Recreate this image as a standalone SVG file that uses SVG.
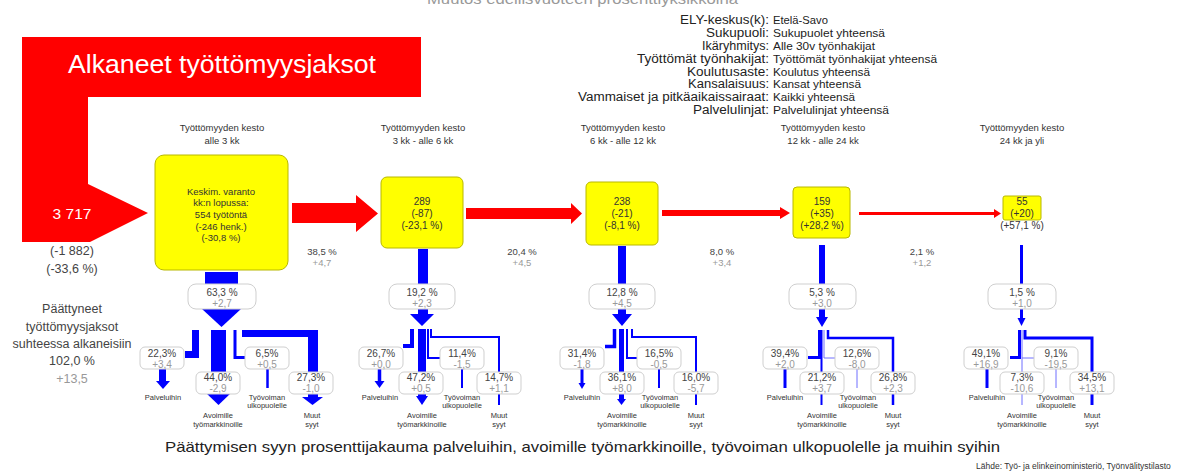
<svg xmlns="http://www.w3.org/2000/svg" width="1200" height="473" viewBox="0 0 1200 473">
<style>
text{font-family:"Liberation Sans",Arial,sans-serif}
.hdr{font-size:9.5px;fill:#333;text-anchor:middle}
.ybox{fill:#ffff00;stroke:#b8b800;stroke-width:1}
.yt{font-size:9.5px;fill:#333;text-anchor:middle}
.yt2{font-size:10px;fill:#333;text-anchor:middle}
.pbox{fill:#fff;stroke:#cfcfcf;stroke-width:1}
.pt{font-size:10px;fill:#444;text-anchor:middle}
.ct{font-size:10px;fill:#999;text-anchor:middle}
.bt{font-size:7.5px;fill:#333;text-anchor:middle}
.red{fill:#ff0000}
.blue{fill:#0000ff}
.bl{stroke:#0000ff;fill:none}
.lb{stroke:#6f6fff;fill:none;stroke-width:1}
.lgl{font-size:12.5px;fill:#222}
.lgv{font-size:10.5px;fill:#222}
.lt{font-size:12.5px;fill:#444;text-anchor:middle}
</style>

<text x="427" y="4" font-size="15" fill="#999" textLength="311" lengthAdjust="spacingAndGlyphs">Muutos edellisvuoteen prosenttiyksikköinä</text>

<g id="legend">
<text class="lgl" x="680" y="23.5" textLength="89" lengthAdjust="spacingAndGlyphs">ELY-keskus(k):</text><text class="lgv" x="773" y="23.5" textLength="55" lengthAdjust="spacingAndGlyphs">Etelä-Savo</text>
<text class="lgl" x="706" y="36.5" textLength="63" lengthAdjust="spacingAndGlyphs">Sukupuoli:</text><text class="lgv" x="773" y="36.5" textLength="112" lengthAdjust="spacingAndGlyphs">Sukupuolet yhteensä</text>
<text class="lgl" x="702" y="49.5" textLength="67" lengthAdjust="spacingAndGlyphs">Ikäryhmitys:</text><text class="lgv" x="773" y="49.5" textLength="102" lengthAdjust="spacingAndGlyphs">Alle 30v työnhakijat</text>
<text class="lgl" x="637" y="63" textLength="132" lengthAdjust="spacingAndGlyphs">Työttömät työnhakijat:</text><text class="lgv" x="773" y="63" textLength="164" lengthAdjust="spacingAndGlyphs">Työttömät työnhakijat yhteensä</text>
<text class="lgl" x="687" y="75.5" textLength="82" lengthAdjust="spacingAndGlyphs">Koulutusaste:</text><text class="lgv" x="773" y="75.5" textLength="97" lengthAdjust="spacingAndGlyphs">Koulutus yhteensä</text>
<text class="lgl" x="688" y="88" textLength="81" lengthAdjust="spacingAndGlyphs">Kansalaisuus:</text><text class="lgv" x="773" y="88" textLength="88" lengthAdjust="spacingAndGlyphs">Kansat yhteensä</text>
<text class="lgl" x="578" y="101" textLength="191" lengthAdjust="spacingAndGlyphs">Vammaiset ja pitkäaikaissairaat:</text><text class="lgv" x="773" y="101" textLength="82" lengthAdjust="spacingAndGlyphs">Kaikki yhteensä</text>
<text class="lgl" x="693" y="113.5" textLength="76" lengthAdjust="spacingAndGlyphs">Palvelulinjat:</text><text class="lgv" x="773" y="113.5" textLength="116" lengthAdjust="spacingAndGlyphs">Palvelulinjat yhteensä</text>
</g>

<g id="connectors">
<path class="red" d="M22,37 H421 V97 H88 V184 L148,213 L90,242 H22 Z"/>
<path class="red" d="M292,203 H356 V195 L378,213.5 L356,232 V223 H292 Z"/>
<path class="red" d="M466,208 H571 V203 L582,213.5 L571,224 V219 H466 Z"/>
<path class="red" d="M662,210 H780 V207 L790,213 L780,219 V216 H662 Z"/>
<path class="red" d="M859,212 H994 V209 L1001,213.5 L994,218 V215 H859 Z"/>

<!-- stage 1 -->
<rect class="blue" x="205" y="272" width="33" height="13"/>
<path class="blue" d="M202,309 H241 L221.5,327 Z"/>
<path class="blue" d="M192,330 H199 V358 H185 V351 H192 Z"/>
<path class="blue" d="M159,369 H166 V381 H170 L163,389 L156,381 H159 Z"/>
<rect class="blue" x="211" y="330" width="15" height="43"/>
<path class="blue" d="M205,392 H232 L218.5,405 Z"/>
<path class="bl" stroke-width="3" d="M235,330 V357.5 H245"/>
<path class="bl" stroke-width="2.5" d="M267.5,369 V388"/>
<path class="blue" d="M242,330 H318 V372 H308 V337 H242 Z"/>
<rect class="blue" x="308" y="392" width="10" height="5"/>
<path class="blue" d="M302,397 H323 L312.5,405 Z"/>

<!-- stage 2 -->
<rect class="blue" x="418" y="249" width="10" height="35"/>
<path class="blue" d="M418,309 H428 V314 H434 L422,326 L410,314 H418 Z"/>
<path class="bl" stroke-width="4" d="M412,329 V346 H403"/>
<path class="bl" stroke-width="3.5" d="M379.5,369 V382"/>
<path class="blue" d="M374.5,381 H384.5 L379.5,388 Z"/>
<rect class="blue" x="418" y="329" width="8" height="43"/>
<rect class="blue" x="418" y="393" width="8" height="4"/>
<path class="blue" d="M416,396 H428 L422,405 Z"/>
<path class="bl" stroke-width="2" d="M428,329 V358 H440"/>
<path class="bl" stroke-width="2" d="M462,369 V388"/>
<path class="bl" stroke-width="2" d="M431,329 V337 H499 V372"/>
<path class="bl" stroke-width="2" d="M499,393 V405"/>

<!-- stage 3 -->
<rect class="blue" x="618" y="246" width="8" height="38"/>
<path class="blue" d="M618,309 H626 V314 H632 L622,326 L612,314 H618 Z"/>
<path class="bl" stroke-width="3.5" d="M614.5,329 V346.5 H605"/>
<path class="bl" stroke-width="3" d="M582,369 V384"/>
<path class="blue" d="M578.5,383 H585.5 L582,389 Z"/>
<rect class="blue" x="619" y="329" width="5" height="43"/>
<rect class="blue" x="619" y="393" width="5" height="6"/>
<path class="blue" d="M617,399 H626 L621.5,405 Z"/>
<path class="bl" stroke-width="2" d="M627,329 V358 H637"/>
<path class="bl" stroke-width="2" d="M659,369 V388"/>
<path class="bl" stroke-width="2" d="M632,329 V337 H696 V372"/>
<path class="bl" stroke-width="2" d="M696,393 V405"/>

<!-- stage 4 -->
<rect class="blue" x="819" y="245" width="6" height="39"/>
<path class="blue" d="M819,309 H825 V317 H828 L822,327 L816,317 H819 Z"/>
<path class="bl" stroke-width="3" d="M819.5,330 V357.5 H808"/>
<path class="bl" stroke-width="3" d="M785,369 V388"/>
<path class="bl" stroke-width="2" d="M821.5,330 V372"/>
<path class="bl" stroke-width="2" d="M821.5,393 V405"/>
<path class="lb" d="M824,330 V358 H835"/>
<path class="lb" d="M857,369 V388"/>
<path class="bl" stroke-width="2.5" d="M828,330 V338 H893 V372"/>
<path class="bl" stroke-width="2.5" d="M893,393 V405"/>

<!-- stage 5 -->
<rect class="blue" x="1020" y="245" width="3" height="39"/>
<path class="blue" d="M1020,309 H1023 V318 H1025.5 L1021.5,326 L1017.5,318 H1020 Z"/>
<path class="bl" stroke-width="3" d="M1019.5,330 V357.5 H1010"/>
<path class="bl" stroke-width="3" d="M987,369 V388"/>
<path class="lb" d="M1022,330 V372"/>
<path class="lb" d="M1022,393 V405"/>
<path class="lb" d="M1022,358 H1034"/>
<path class="lb" d="M1056,369 V388"/>
<path class="bl" stroke-width="3" d="M1025,330 V338 H1092 V372"/>
<path class="bl" stroke-width="3" d="M1092,393 V405"/>
</g>

<g id="start">
<text x="68" y="73" font-size="25" fill="#fff" textLength="308" lengthAdjust="spacingAndGlyphs">Alkaneet työttömyysjaksot</text>
<text x="72" y="218.5" font-size="15.5" fill="#fff" text-anchor="middle">3 717</text>
<text class="lt" x="72" y="254.5">(-1 882)</text>
<text class="lt" x="72" y="272.5">(-33,6 %)</text>
</g>

<g id="ended-total">
<text class="lt" x="72" y="312.5">Päättyneet</text>
<text class="lt" x="72" y="330.5">työttömyysjaksot</text>
<text class="lt" x="72" y="347.5">suhteessa alkaneisiin</text>
<text class="lt" x="72" y="364.5">102,0 %</text>
<text class="lt" x="72" y="382.5" style="fill:#999">+13,5</text>
</g>

<!-- stage 1 -->
<g id="stage1">
<text class="hdr" x="222" y="131">Työttömyyden kesto</text>
<text class="hdr" x="222" y="144">alle 3 kk</text>
<rect class="ybox" x="155" y="155" width="133" height="115" rx="9"/>
<text class="yt" x="221" y="194.5">Keskim. varanto</text>
<text class="yt" x="221" y="205.5">kk:n lopussa:</text>
<text class="yt" x="221" y="217.5">554 työtöntä</text>
<text class="yt" x="221" y="229.5">(-246 henk.)</text>
<text class="yt" x="221" y="240.5">(-30,8 %)</text>
</g>
<g id="stage1-ended">
<rect class="pbox" x="188" y="284" width="68" height="25" rx="8"/>
<text class="pt" x="222" y="296">63,3 %</text>
<text class="ct" x="222" y="306.5">+2,7</text>
</g>
<g id="stage1-next"><text class="pt" x="322" y="254.5" style="font-size:9.5px">38,5 %</text><text class="ct" x="322" y="265.5" style="font-size:9.5px">+4,7</text></g>
<g id="s1-palv"><rect class="pbox" x="140" y="347" width="44" height="22" rx="5"/><text class="pt" x="162" y="356.5">22,3%</text><text class="ct" x="162" y="367.5">+3,4</text><text class="bt" x="163" y="399.5">Palveluihin</text></g>
<g id="s1-avoin"><rect class="pbox" x="196" y="372" width="44" height="22" rx="5"/><text class="pt" x="218" y="380.5">44,0%</text><text class="ct" x="218" y="391.5">-2,9</text><text class="bt" x="218" y="417.5">Avoimille</text><text class="bt" x="218" y="426.5">työmarkkinoille</text></g>
<g id="s1-tyov"><rect class="pbox" x="245" y="347" width="44" height="22" rx="5"/><text class="pt" x="267" y="356.5">6,5%</text><text class="ct" x="267" y="367.5">+0,5</text><text class="bt" x="267" y="399.5">Työvoiman</text><text class="bt" x="267" y="407.5">ulkopuolelle</text></g>
<g id="s1-muut"><rect class="pbox" x="289" y="372" width="44" height="22" rx="5"/><text class="pt" x="311" y="380.5">27,3%</text><text class="ct" x="311" y="391.5">-1,0</text><text class="bt" x="312" y="417.5">Muut</text><text class="bt" x="312" y="426.5">syyt</text></g>

<!-- stage 2 -->
<g id="stage2">
<text class="hdr" x="423" y="131">Työttömyyden kesto</text>
<text class="hdr" x="423" y="144">3 kk - alle 6 kk</text>
<rect class="ybox" x="381" y="177" width="82" height="71" rx="6"/>
<text class="yt2" x="422" y="204.5">289</text>
<text class="yt2" x="422" y="216.5">(-87)</text>
<text class="yt2" x="422" y="228.5">(-23,1 %)</text>
</g>
<g id="stage2-ended">
<rect class="pbox" x="389" y="284" width="66" height="25" rx="8"/>
<text class="pt" x="422" y="296">19,2 %</text>
<text class="ct" x="422" y="306.5">+2,3</text>
</g>
<g id="stage2-next"><text class="pt" x="522" y="254.5" style="font-size:9.5px">20,4 %</text><text class="ct" x="522" y="265.5" style="font-size:9.5px">+4,5</text></g>
<g id="s2-palv"><rect class="pbox" x="359" y="347" width="44" height="22" rx="5"/><text class="pt" x="381" y="356.5">26,7%</text><text class="ct" x="381" y="367.5">+0,0</text><text class="bt" x="380" y="399.5">Palveluihin</text></g>
<g id="s2-avoin"><rect class="pbox" x="399" y="372" width="44" height="22" rx="5"/><text class="pt" x="421" y="380.5">47,2%</text><text class="ct" x="421" y="391.5">+0,5</text><text class="bt" x="422" y="417.5">Avoimille</text><text class="bt" x="422" y="426.5">työmarkkinoille</text></g>
<g id="s2-tyov"><rect class="pbox" x="440" y="347" width="44" height="22" rx="5"/><text class="pt" x="462" y="356.5">11,4%</text><text class="ct" x="462" y="367.5">-1,5</text><text class="bt" x="462" y="399.5">Työvoiman</text><text class="bt" x="462" y="407.5">ulkopuolelle</text></g>
<g id="s2-muut"><rect class="pbox" x="477" y="372" width="44" height="22" rx="5"/><text class="pt" x="499" y="380.5">14,7%</text><text class="ct" x="499" y="391.5">+1,1</text><text class="bt" x="499" y="417.5">Muut</text><text class="bt" x="499" y="426.5">syyt</text></g>

<!-- stage 3 -->
<g id="stage3">
<text class="hdr" x="623" y="131">Työttömyyden kesto</text>
<text class="hdr" x="623" y="144">6 kk - alle 12 kk</text>
<rect class="ybox" x="586" y="182" width="72" height="63" rx="5"/>
<text class="yt2" x="622" y="204.5">238</text>
<text class="yt2" x="622" y="216.5">(-21)</text>
<text class="yt2" x="622" y="228.5">(-8,1 %)</text>
</g>
<g id="stage3-ended">
<rect class="pbox" x="589" y="284" width="66" height="25" rx="8"/>
<text class="pt" x="622" y="296">12,8 %</text>
<text class="ct" x="622" y="306.5">+4,5</text>
</g>
<g id="stage3-next"><text class="pt" x="722" y="254.5" style="font-size:9.5px">8,0 %</text><text class="ct" x="722" y="265.5" style="font-size:9.5px">+3,4</text></g>
<g id="s3-palv"><rect class="pbox" x="560" y="347" width="44" height="22" rx="5"/><text class="pt" x="582" y="356.5">31,4%</text><text class="ct" x="582" y="367.5">-1,8</text><text class="bt" x="582" y="399.5">Palveluihin</text></g>
<g id="s3-avoin"><rect class="pbox" x="600" y="372" width="44" height="22" rx="5"/><text class="pt" x="622" y="380.5">36,1%</text><text class="ct" x="622" y="391.5">+8,0</text><text class="bt" x="622" y="417.5">Avoimille</text><text class="bt" x="622" y="426.5">työmarkkinoille</text></g>
<g id="s3-tyov"><rect class="pbox" x="637" y="347" width="44" height="22" rx="5"/><text class="pt" x="659" y="356.5">16,5%</text><text class="ct" x="659" y="367.5">-0,5</text><text class="bt" x="660" y="399.5">Työvoiman</text><text class="bt" x="660" y="407.5">ulkopuolelle</text></g>
<g id="s3-muut"><rect class="pbox" x="674" y="372" width="44" height="22" rx="5"/><text class="pt" x="696" y="380.5">16,0%</text><text class="ct" x="696" y="391.5">-5,7</text><text class="bt" x="696" y="417.5">Muut</text><text class="bt" x="696" y="426.5">syyt</text></g>

<!-- stage 4 -->
<g id="stage4">
<text class="hdr" x="823" y="131">Työttömyyden kesto</text>
<text class="hdr" x="823" y="144">12 kk - alle 24 kk</text>
<rect class="ybox" x="793" y="187" width="57" height="51" rx="4"/>
<text class="yt2" x="822" y="204.5">159</text>
<text class="yt2" x="822" y="216.5">(+35)</text>
<text class="yt2" x="822" y="228.5">(+28,2 %)</text>
</g>
<g id="stage4-ended">
<rect class="pbox" x="789" y="284" width="67" height="25" rx="8"/>
<text class="pt" x="822" y="296">5,3 %</text>
<text class="ct" x="822" y="306.5">+3,0</text>
</g>
<g id="stage4-next"><text class="pt" x="922" y="254.5" style="font-size:9.5px">2,1 %</text><text class="ct" x="922" y="265.5" style="font-size:9.5px">+1,2</text></g>
<g id="s4-palv"><rect class="pbox" x="763" y="347" width="44" height="22" rx="5"/><text class="pt" x="785" y="356.5">39,4%</text><text class="ct" x="785" y="367.5">+2,0</text><text class="bt" x="785" y="399.5">Palveluihin</text></g>
<g id="s4-avoin"><rect class="pbox" x="800" y="372" width="44" height="22" rx="5"/><text class="pt" x="822" y="380.5">21,2%</text><text class="ct" x="822" y="391.5">+3,7</text><text class="bt" x="822" y="417.5">Avoimille</text><text class="bt" x="822" y="426.5">työmarkkinoille</text></g>
<g id="s4-tyov"><rect class="pbox" x="835" y="347" width="44" height="22" rx="5"/><text class="pt" x="857" y="356.5">12,6%</text><text class="ct" x="857" y="367.5">-8,0</text><text class="bt" x="858" y="399.5">Työvoiman</text><text class="bt" x="858" y="407.5">ulkopuolelle</text></g>
<g id="s4-muut"><rect class="pbox" x="871" y="372" width="44" height="22" rx="5"/><text class="pt" x="893" y="380.5">26,8%</text><text class="ct" x="893" y="391.5">+2,3</text><text class="bt" x="893" y="417.5">Muut</text><text class="bt" x="893" y="426.5">syyt</text></g>

<!-- stage 5 -->
<g id="stage5">
<text class="hdr" x="1022" y="131">Työttömyyden kesto</text>
<text class="hdr" x="1022" y="144">24 kk ja yli</text>
<rect class="ybox" x="1003" y="196" width="38" height="24" rx="2"/>
<text class="yt2" x="1022" y="204.5">55</text>
<text class="yt2" x="1022" y="216.5">(+20)</text>
<text class="yt2" x="1022" y="228.5">(+57,1 %)</text>
</g>
<g id="stage5-ended">
<rect class="pbox" x="988" y="284" width="68" height="25" rx="8"/>
<text class="pt" x="1022" y="296">1,5 %</text>
<text class="ct" x="1022" y="306.5">+1,0</text>
</g>
<g id="s5-palv"><rect class="pbox" x="964" y="347" width="44" height="22" rx="5"/><text class="pt" x="986" y="356.5">49,1%</text><text class="ct" x="986" y="367.5">+16,9</text><text class="bt" x="987" y="399.5">Palveluihin</text></g>
<g id="s5-avoin"><rect class="pbox" x="1000" y="372" width="44" height="22" rx="5"/><text class="pt" x="1022" y="380.5">7,3%</text><text class="ct" x="1022" y="391.5">-10,6</text><text class="bt" x="1022" y="417.5">Avoimille</text><text class="bt" x="1022" y="426.5">työmarkkinoille</text></g>
<g id="s5-tyov"><rect class="pbox" x="1034" y="347" width="44" height="22" rx="5"/><text class="pt" x="1056" y="356.5">9,1%</text><text class="ct" x="1056" y="367.5">-19,5</text><text class="bt" x="1056" y="399.5">Työvoiman</text><text class="bt" x="1056" y="407.5">ulkopuolelle</text></g>
<g id="s5-muut"><rect class="pbox" x="1070" y="372" width="44" height="22" rx="5"/><text class="pt" x="1092" y="380.5">34,5%</text><text class="ct" x="1092" y="391.5">+13,1</text><text class="bt" x="1092" y="417.5">Muut</text><text class="bt" x="1092" y="426.5">syyt</text></g>

<g id="footer">
<text x="165" y="452" font-size="15" fill="#222" textLength="835" lengthAdjust="spacingAndGlyphs">Päättymisen syyn prosenttijakauma palveluihin, avoimille työmarkkinoille, työvoiman ulkopuolelle ja muihin syihin</text>
<text x="976" y="469" font-size="8.5" fill="#333">Lähde: Työ- ja elinkeinoministeriö, Työnvälitystilasto</text>
</g>
</svg>
